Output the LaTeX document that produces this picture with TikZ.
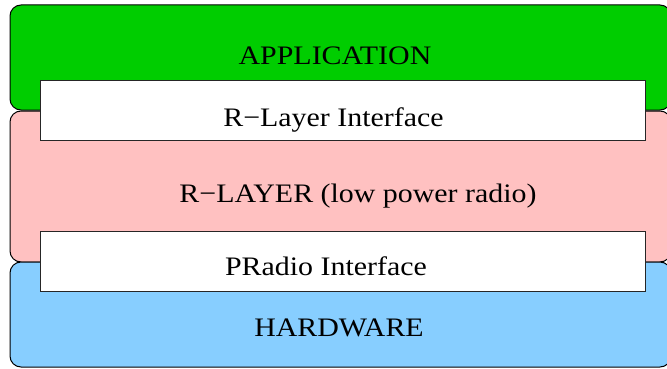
\documentclass[tikz,border=0pt]{standalone}
\usepackage{fontspec}
\setmainfont{Liberation Serif}
\definecolor{appgreen}{RGB}{0,205,0}
\definecolor{rlayerpink}{RGB}{255,193,193}
\definecolor{hwblue}{RGB}{135,206,255}
\tikzset{
  layerbox/.style={draw=black, line width=1pt, rounded corners=11pt, inner sep=0pt, outer sep=0pt},
  ifacebox/.style={draw=black!85, line width=1pt, fill=white, inner sep=0pt, outer sep=0pt},
  lbl/.style={anchor=base, inner sep=0pt, font=\fontsize{26.7}{32}\selectfont},
}
\newcommand{\widetext}[1]{\scalebox{1.12}[1]{#1}}
\begin{document}
\begin{tikzpicture}[x=1pt, y=-1pt]
  \useasboundingbox (0,0) rectangle (667,369);
  % three stacked layers (right side runs past the page edge)
  \node[layerbox, fill=appgreen, minimum width=661pt, minimum height=105pt] (app) at (340.5,57.5) {};
  \node[layerbox, fill=rlayerpink, minimum width=661pt, minimum height=151pt] (rlayer) at (340.5,186.5) {};
  \node[layerbox, fill=hwblue, minimum width=661pt, minimum height=105pt] (hw) at (340.5,314.5) {};
  % interfaces between the layers
  \node[ifacebox, minimum width=605pt, minimum height=60pt] (rif) at (342.5,110.7) {};
  \node[ifacebox, minimum width=605pt, minimum height=60pt] (pif) at (342.5,261.7) {};
  % labels
  \node[lbl] (applbl) at (335,65) {\widetext{APPLICATION}};
  \node[lbl] (riflbl) at (333.5,126) {\widetext{R−Layer Interface}};
  \node[lbl] (rlayerlbl) at (358,202) {\widetext{R−LAYER (low power radio)}};
  \node[lbl] (piflbl) at (326,275) {\widetext{PRadio Interface}};
  \node[lbl] (hwlbl) at (339,336) {\widetext{HARDWARE}};
\end{tikzpicture}
\end{document}
